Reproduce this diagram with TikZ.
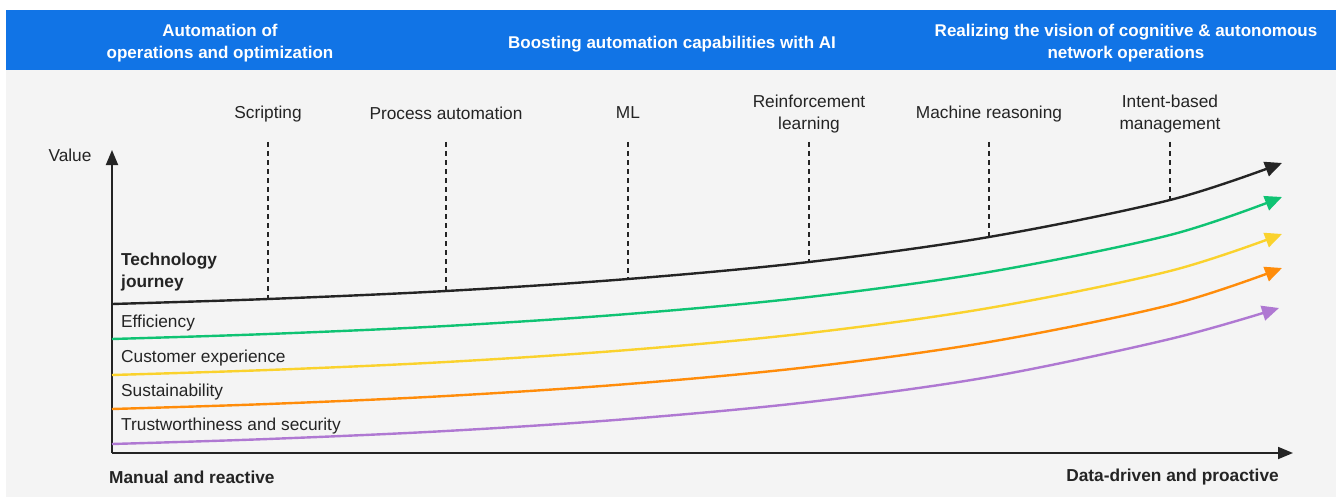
\documentclass[tikz,border=0pt]{standalone}
\usepackage{fontspec}
\setmainfont{Liberation Sans}
\usetikzlibrary{arrows.meta}
\definecolor{eblue}{HTML}{1174E6}
\definecolor{panel}{HTML}{F4F4F4}
\definecolor{ink}{HTML}{242424}
\definecolor{cgreen}{HTML}{0FC373}
\definecolor{cyellow}{HTML}{FAD22D}
\definecolor{corange}{HTML}{FF8C0A}
\definecolor{cpurple}{HTML}{AF78D2}
\tikzset{
  txt/.style={font=\fontsize{17.3}{21.5}\selectfont, text=ink, inner sep=0pt},
  hdr/.style={font=\fontsize{17}{22}\selectfont\bfseries, text=white, align=center, inner sep=0pt},
  stage/.style={txt, align=center},
  lbl/.style={txt, anchor=west},
  axisline/.style={draw=ink, line width=1.8pt, -{Triangle[length=15pt,width=12pt]}},
  curve/.style={line width=2.4pt, -{Triangle[length=17pt,width=15pt]}},
  guide/.style={draw=ink, line width=1.2pt, dash pattern=on 5pt off 4pt},
}
\begin{document}
\begin{tikzpicture}[x=1pt,y=-1pt]
\useasboundingbox (0,0) rectangle (1341,500);
\fill[white] (0,0) rectangle (1341,500);
\fill[panel] (6,10) rectangle (1336,497);
\fill[eblue] (6,10) rectangle (1336,70);

% header
\node[hdr] (h1) at (220,43) {Automation of\\operations and optimization};
\node[hdr] (h2) at (672,44) {Boosting automation capabilities with AI};
\node[hdr] (h3) at (1126,43) {Realizing the vision of cognitive \& autonomous\\network operations};

% axes
\coordinate (o) at (112,453);
\coordinate (ytip) at (112,150);
\coordinate (xtip) at (1293,453);
\draw[axisline] (o) -- (ytip);
\draw[axisline] (o) -- (xtip);
\node[txt] (value) at (70,155) {Value};
\node[txt, anchor=west] (manual) at (109,477) {\bfseries Manual and reactive};
\node[txt, anchor=east] (data) at (1279,477) {\bfseries Data-driven and proactive};

% technology journey curve points
\coordinate (c0) at (112,304);
\coordinate (c1) at (268,299);
\coordinate (c2) at (446,291);
\coordinate (c3) at (628,279);
\coordinate (c4) at (809,262);
\coordinate (c5) at (989,237);
\coordinate (c6) at (1170,200);
\coordinate (c7) at (1282,163);

% curves
\draw[curve, cpurple] plot[smooth, tension=0.55] coordinates {(112,444) (268,439) (446,431) (628,419) (809,402) (989,377) (1170,339) (1279,308)};
\draw[curve, corange] plot[smooth, tension=0.55] coordinates {(112,409) (268,404) (446,396) (628,384) (809,367) (989,342) (1170,305) (1282,268)};
\draw[curve, cyellow] plot[smooth, tension=0.55] coordinates {(112,375) (268,370) (446,362) (628,350) (809,333) (989,308) (1170,271) (1282,234)};
\draw[curve, cgreen] plot[smooth, tension=0.55] coordinates {(112,339) (268,334) (446,326) (628,314) (809,297) (989,272) (1170,235) (1282,197)};
\draw[curve, ink] plot[smooth, tension=0.55] coordinates {(c0) (c1) (c2) (c3) (c4) (c5) (c6) (c7)};

% stages
\node[stage] (s1) at (268,114) {Scripting};
\node[stage] (s2) at (446,113) {Process automation};
\node[stage] (s3) at (628,113) {ML};
\node[stage] (s4) at (809,114) {Reinforcement\\learning};
\node[stage] (s5) at (989,114) {Machine reasoning};
\node[stage] (s6) at (1170,114) {Intent-based\\management};
\foreach \i/\x in {1/268,2/446,3/628,4/809,5/989,6/1170} {
  \coordinate (t\i) at (\x,142);
  \draw[guide] (t\i) -- (c\i);
}

% left labels
\node[lbl, align=left] (tj) at (121,272) {\bfseries Technology\\\bfseries journey};
\node[lbl] (eff) at (121,323) {Efficiency};
\node[lbl] (cx) at (121,358) {Customer experience};
\node[lbl] (sus) at (121,392) {Sustainability};
\node[lbl] (trust) at (121,426) {Trustworthiness and security};
\end{tikzpicture}
\end{document}
